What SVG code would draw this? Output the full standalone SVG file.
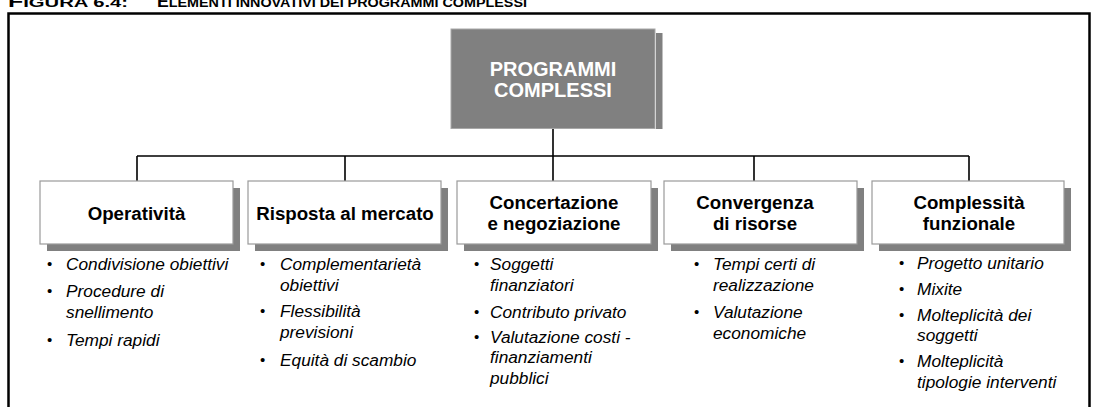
<svg xmlns="http://www.w3.org/2000/svg" width="1098" height="407" viewBox="0 0 1098 407">
<style>
.title{font-family:"Liberation Sans",Arial,sans-serif;font-weight:bold;fill:#000}
.frame{fill:none;stroke:#000;stroke-width:2.5}
.conn{fill:none;stroke:#000;stroke-width:1.6}
.shadow{fill:#808080}
.box{fill:#fff;stroke:#9a9a9a;stroke-width:1.2}
.lbl{font-family:"Liberation Sans",Arial,sans-serif;font-weight:bold;font-size:18.7px;fill:#000;text-anchor:middle}
.top{font-family:"Liberation Sans",Arial,sans-serif;font-weight:bold;font-size:20px;fill:#fff;text-anchor:middle}
.it{font-family:"Liberation Sans",Arial,sans-serif;font-style:italic;font-size:17.3px;fill:#000}
.bul{font-family:"Liberation Sans",Arial,sans-serif;font-size:15px;fill:#000}
</style>
<rect width="1098" height="407" fill="#fff"/>
<text class="title" x="8" y="7" font-size="16" textLength="120" lengthAdjust="spacingAndGlyphs">F<tspan font-size="13">IGURA 6.4:</tspan></text>
<text class="title" x="157" y="7" font-size="16" textLength="370" lengthAdjust="spacingAndGlyphs">E<tspan font-size="13">LEMENTI INNOVATIVI DEI PROGRAMMI COMPLESSI</tspan></text>
<rect class="frame" x="8.5" y="13.5" width="1081" height="430"/>
<g id="connectors">
<path class="conn" d="M553 129V181M137 156H969M137 156V181M345 156V181M754 156V181M969 156V181"/>
</g>
<g id="n0">
<rect class="shadow" x="656" y="33" width="6.5" height="96"/>
<rect x="451" y="29" width="204" height="99.5" fill="#808080" stroke="#a8a8a8" stroke-width="1"/>
<text class="top" x="553" y="76">PROGRAMMI</text>
<text class="top" x="553" y="97">COMPLESSI</text>
</g>
<g id="n1">
<rect class="shadow" x="47" y="188" width="193" height="63"/>
<rect class="box" x="40" y="181" width="193" height="63"/>
<text class="lbl" x="136.5" y="219.5">Operatività</text>
<text class="bul" x="47" y="269">•</text><text class="it" x="66" y="270">Condivisione obiettivi</text>
<text class="bul" x="47" y="296">•</text><text class="it" x="66" y="297">Procedure di</text>
<text class="it" x="66" y="318">snellimento</text>
<text class="bul" x="47" y="345">•</text><text class="it" x="66" y="346">Tempi rapidi</text>
</g>
<g id="n2">
<rect class="shadow" x="255" y="188" width="193" height="63"/>
<rect class="box" x="248" y="181" width="193" height="63"/>
<text class="lbl" x="345" y="219.5">Risposta al mercato</text>
<text class="bul" x="260" y="269">•</text><text class="it" x="280" y="270">Complementarietà</text>
<text class="it" x="280" y="291">obiettivi</text>
<text class="bul" x="260" y="316">•</text><text class="it" x="280" y="317">Flessibilità</text>
<text class="it" x="280" y="338">previsioni</text>
<text class="bul" x="260" y="365">•</text><text class="it" x="280" y="366">Equità di scambio</text>
</g>
<g id="n3">
<rect class="shadow" x="464" y="188" width="194" height="63"/>
<rect class="box" x="457" y="181" width="194" height="63"/>
<text class="lbl" x="554" y="208.5">Concertazione</text>
<text class="lbl" x="554" y="229.5">e negoziazione</text>
<text class="bul" x="474" y="269">•</text><text class="it" x="490" y="270">Soggetti</text>
<text class="it" x="490" y="291">finanziatori</text>
<text class="bul" x="474" y="317">•</text><text class="it" x="490" y="318">Contributo privato</text>
<text class="bul" x="474" y="342">•</text><text class="it" x="490" y="343">Valutazione costi -</text>
<text class="it" x="490" y="363">finanziamenti</text>
<text class="it" x="490" y="384">pubblici</text>
</g>
<g id="n4">
<rect class="shadow" x="671" y="188" width="193" height="63"/>
<rect class="box" x="664" y="181" width="193" height="63"/>
<text class="lbl" x="755" y="208.5">Convergenza</text>
<text class="lbl" x="755" y="229.5">di risorse</text>
<text class="bul" x="694" y="269">•</text><text class="it" x="713" y="270">Tempi certi di</text>
<text class="it" x="713" y="291">realizzazione</text>
<text class="bul" x="694" y="317">•</text><text class="it" x="713" y="318">Valutazione</text>
<text class="it" x="713" y="339">economiche</text>
</g>
<g id="n5">
<rect class="shadow" x="879" y="188" width="192" height="63"/>
<rect class="box" x="872" y="181" width="192" height="63"/>
<text class="lbl" x="969" y="208.5">Complessità</text>
<text class="lbl" x="969" y="229.5">funzionale</text>
<text class="bul" x="899" y="268">•</text><text class="it" x="917" y="269">Progetto unitario</text>
<text class="bul" x="899" y="294">•</text><text class="it" x="917" y="295">Mixite</text>
<text class="bul" x="899" y="320">•</text><text class="it" x="917" y="321">Molteplicità dei</text>
<text class="it" x="917" y="341">soggetti</text>
<text class="bul" x="899" y="366">•</text><text class="it" x="917" y="367">Molteplicità</text>
<text class="it" x="917" y="388">tipologie interventi</text>
</g>
</svg>
